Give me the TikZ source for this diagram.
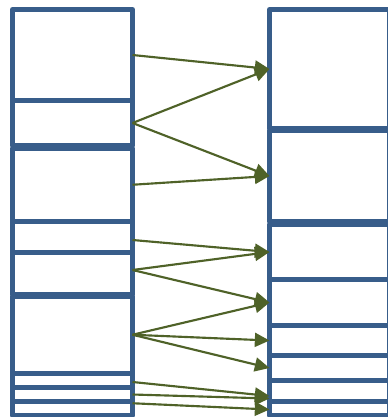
\documentclass[tikz,border=0pt]{standalone}
\usetikzlibrary{arrows.meta,calc}
\definecolor{boxblue}{HTML}{385D8A}
\definecolor{arrgreen}{HTML}{4F6228}
\tikzset{
  colbox/.style={draw=boxblue, line width=3.75pt, line join=round, fill=none,
    rectangle, inner sep=0pt, outer sep=0pt, minimum width=90pt},
  link/.style={draw=arrgreen, line width=1.6pt,
    -{Triangle[length=11pt,width=10.5pt]}}
}
\newcommand\mkbox[4]{\node[colbox, minimum height={(#4-#3)*0.75}] (#1) at (#2,{(#3+#4)/2}) {};}
\begin{document}
\begin{tikzpicture}[x=0.75pt,y=-0.75pt]
\useasboundingbox (0,0) rectangle (388,417);
\clip (0,0) rectangle (388,417);
% left column
\mkbox{L1}{72.5}{9.5}{100.5}
\mkbox{L2}{72.5}{100.5}{145.5}
\mkbox{L3}{72.5}{148.5}{221}
\mkbox{L4}{72.5}{221}{252}
\mkbox{L5}{72.5}{252}{294.5}
\mkbox{L6}{72.5}{296.5}{373}
\mkbox{L7}{72.5}{373}{387.5}
\mkbox{L8}{72.5}{387.5}{401.5}
\mkbox{L9}{72.5}{401.5}{415}
% right column
\mkbox{R1}{329.5}{9.5}{128.5}
\mkbox{R2}{329.5}{130.5}{221.5}
\mkbox{R3}{329.5}{224.5}{279.5}
\mkbox{R4}{329.5}{279.5}{325.5}
\mkbox{R5}{329.5}{325.5}{355.5}
\mkbox{R6}{329.5}{355.5}{380.5}
\mkbox{R7}{329.5}{380.5}{401.5}
\mkbox{R8}{329.5}{401.5}{415.5}
% arrows
\draw[link] (L1.east) -- (R1.west);
\draw[link] (L2.east) -- (R1.west);
\draw[link] (L2.east) -- (R2.west);
\draw[link] (L3.east) -- (R2.west);
\draw[link] ($(L4.east)+(0,3.5)$) -- (R3.west);
\draw[link] ($(L5.east)+(0,-3.25)$) -- (R3.west);
\draw[link] ($(L5.east)+(0,-3.25)$) -- (R4.west);
\draw[link] (L6.east) -- (R4.west);
\draw[link] (L6.east) -- (R5.west);
\draw[link] (L6.east) -- (R6.west);
\draw[link] ($(L7.east)+(0,1.75)$) -- ($(R7.west)+(0,5)$);
\draw[link] (L8.east) -- ($(R7.west)+(0,7.5)$);
\draw[link] ($(L9.east)+(0,-5)$) -- ($(R8.west)+(0,1)$);
\end{tikzpicture}
\end{document}
